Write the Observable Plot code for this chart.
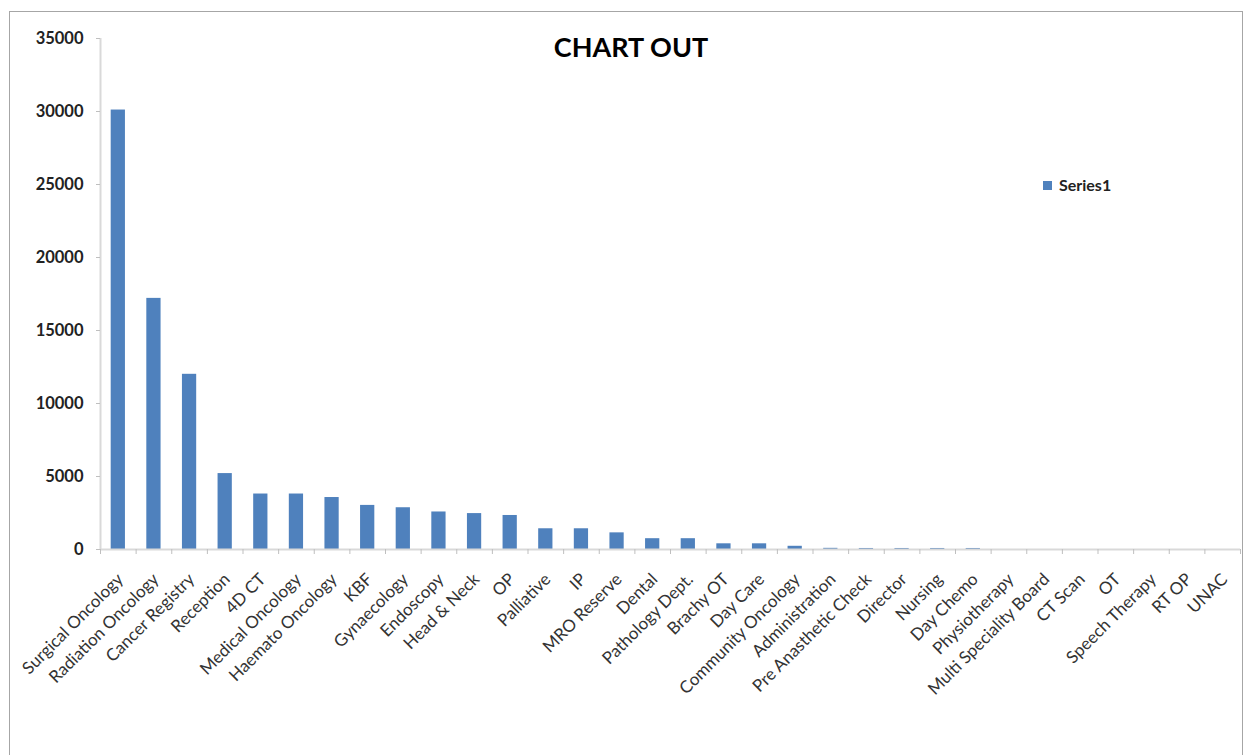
<!DOCTYPE html>
<html>
<head>
<meta charset="utf-8">
<script src="https://cdn.jsdelivr.net/npm/d3@7"></script>
<script src="https://cdn.jsdelivr.net/npm/@observablehq/plot@0.6"></script>
<style>
  body { margin: 0; background: #fff; }
  #wrap { position: relative; width: 1244px; height: 755px; overflow: hidden; background: #fff; }
  #frame { position: absolute; left: 9px; top: 11px; width: 1234px; height: 800px; border: 1px solid #a6a6a6; box-sizing: border-box; pointer-events: none; }
  #chart { position: absolute; left: 0; top: 0; }
  #title { position: absolute; left: 481px; width: 300px; top: 30px; text-align: center; font: bold 27px Lato, sans-serif; line-height: 34px; color: #000; }
  #legend { position: absolute; left: 1043px; top: 175px; font: bold 16px Lato, sans-serif; color: #222; display: flex; align-items: center; line-height: 20px; }
  #legend span.sw { display: inline-block; width: 9px; height: 9px; background: #4f81bd; margin-right: 7px; }
</style>
</head>
<body>
<div id="wrap">
  <div id="chart"></div>
  <div id="frame"></div>
  <div id="title">CHART OUT</div>
  <div id="legend"><span class="sw"></span><span id="legendLabel"></span></div>
</div>
<script>
const categories = [
  "Surgical Oncology", "Radiation Oncology", "Cancer Registry", "Reception", "4D CT",
  "Medical Oncology", "Haemato Oncology", "KBF", "Gynaecology", "Endoscopy",
  "Head & Neck", "OP", "Palliative", "IP", "MRO Reserve", "Dental",
  "Pathology Dept.", "Brachy OT", "Day Care", "Community Oncology", "Administration",
  "Pre Anasthetic Check", "Director", "Nursing", "Day Chemo", "Physiotherapy",
  "Multi Speciality Board", "CT Scan", "OT", "Speech Therapy", "RT OP", "UNAC"
];
const values = [
  30100, 17200, 12000, 5200, 3800,
  3800, 3560, 3020, 2860, 2570,
  2460, 2330, 1420, 1420, 1140, 740,
  740, 390, 390, 220, 80,
  70, 70, 70, 70, 0,
  0, 0, 0, 0, 0, 0
];
const seriesName = "Series1";
const yTicks = [0, 5000, 10000, 15000, 20000, 25000, 30000, 35000];

document.getElementById("legendLabel").textContent = seriesName;

const data = categories.map((name, i) => ({ name, i, value: values[i] }));
const bounds = d3.range(categories.length + 1);

const chart = Plot.plot({
  width: 1244,
  height: 755,
  marginLeft: 100,
  marginRight: 4,
  marginTop: 38,
  marginBottom: 206,
  style: { fontFamily: "Lato, sans-serif", background: "transparent" },
  x: { domain: [0, categories.length], axis: null },
  y: { domain: [0, 35000], axis: null },
  marks: [
    Plot.rectY(data, { x1: d => d.i + 0.3, x2: d => d.i + 0.7, y: "value", fill: "#4f81bd" }),
    Plot.ruleY([0], { stroke: "#d9d9d9", strokeWidth: 2 }),
    Plot.ruleX([0], { stroke: "#d9d9d9", strokeWidth: 2 }),
    Plot.axisX(bounds, { tickSize: 5, stroke: "#bfbfbf", tickFormat: () => "", strokeWidth: 1, label: null }),
    Plot.axisY(yTicks, { tickSize: 4, tickPadding: 13, stroke: "#bfbfbf", fill: "#222", fontSize: 16.5, fontWeight: "bold", tickFormat: d => String(d), label: null }),
    Plot.text(data, {
      x: d => d.i + 0.5, y: () => 0, text: "name", rotate: -45,
      textAnchor: "end", lineAnchor: "middle", dx: 2, dy: 27,
      fontSize: 17, fill: "#333"
    })
  ]
});
document.getElementById("chart").appendChild(chart);
</script>
</body>
</html>
